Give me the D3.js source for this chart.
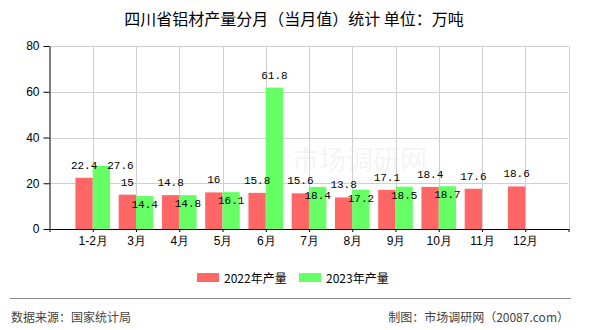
<!DOCTYPE html>
<html>
<head>
<meta charset="utf-8">
<script src="https://cdn.jsdelivr.net/npm/d3@7"></script>
<style>
  html, body { margin: 0; padding: 0; background: #fff; }
  svg { display: block; font-family: "Noto Sans CJK SC", "Noto Sans", sans-serif; }
</style>
</head>
<body>
<svg id="chart" width="590" height="330"></svg>
<script>
/* 四川省铝材产量分月（当月值） — grouped bars, 2022 vs 2023 */

const months = ['1-2月', '3月', '4月', '5月', '6月', '7月', '8月', '9月', '10月', '11月', '12月'];
const output2022 = [22.4, 15, 14.8, 16, 15.8, 15.6, 13.8, 17.1, 18.4, 17.6, 18.6];
const output2023 = [27.6, 14.4, 14.8, 16.1, 61.8, 18.4, 17.2, 18.5, 18.7, null, null];
const seriesNames = ['2022年产量', '2023年产量'];
const yTicks = [0, 20, 40, 60, 80];

const COLORS = ['#ff6666', '#66ff66'];
const PLOT = { left: 49.5, right: 568.5, top: 46, bottom: 229 };
const LABEL_CHAR_W = 6;
const LABEL_H = 11;

const svg = d3.select('#chart');

const x = d3.scaleLinear().domain([0, months.length + 1]).range([PLOT.left, PLOT.right]);
const y = d3.scaleLinear().domain([0, 80]).range([PLOT.bottom, PLOT.top]);
const step = x(1) - x(0);
const barW = step * 0.4;

// Title
svg.append('text')
    .attr('x', 294).attr('y', 18)
    .attr('text-anchor', 'middle')
    .attr('dominant-baseline', 'central')
    .attr('font-size', '16px')
    .attr('fill', '#000')
    .text('四川省铝材产量分月（当月值）统计 单位：万吨');

// Watermark
svg.append('text')
    .attr('x', 292).attr('y', 158)
    .attr('dominant-baseline', 'central')
    .attr('font-size', '27px')
    .attr('fill', '#000')
    .attr('opacity', 0.04)
    .text('市场调研网');

// Grid
const grid = svg.append('g').attr('stroke', '#d0d0d0').attr('stroke-width', 1);
yTicks.forEach(t => {
    grid.append('line')
        .attr('x1', PLOT.left).attr('x2', PLOT.right)
        .attr('y1', Math.round(y(t)) + 0.5).attr('y2', Math.round(y(t)) + 0.5);
});
d3.range(1, months.length + 2).forEach(i => {
    grid.append('line')
        .attr('x1', Math.round(x(i)) + 0.5).attr('x2', Math.round(x(i)) + 0.5)
        .attr('y1', PLOT.top).attr('y2', PLOT.bottom);
});

// Bars
const rows = months.map((m, i) => ({ m, i, a: output2022[i], b: output2023[i] }));

svg.append('g').selectAll('rect')
    .data(rows)
    .join('rect')
    .attr('x', d => x(d.i + 1) - barW)
    .attr('y', d => y(d.a))
    .attr('width', barW)
    .attr('height', d => y(0) - y(d.a))
    .attr('fill', COLORS[0]);

svg.append('g').selectAll('rect')
    .data(rows.filter(d => d.b != null))
    .join('rect')
    .attr('x', d => x(d.i + 1))
    .attr('y', d => y(d.b))
    .attr('width', barW)
    .attr('height', d => y(0) - y(d.b))
    .attr('fill', COLORS[1]);

// Axes
const yAxis = svg.append('g')
    .attr('transform', `translate(${PLOT.left},0)`)
    .call(d3.axisLeft(y).tickValues(yTicks).tickSize(6).tickPadding(4).tickSizeOuter(0));
yAxis.select('.domain').attr('stroke', '#000');
yAxis.selectAll('text').attr('font-size', '12px').attr('fill', '#000').attr('font-family', '"Liberation Sans", sans-serif');

const xAxis = svg.append('g')
    .attr('transform', `translate(0,${PLOT.bottom})`)
    .call(d3.axisBottom(x)
        .tickValues(d3.range(0, months.length + 2))
        .tickFormat(i => (i >= 1 && i <= months.length) ? months[i - 1] : '')
        .tickSize(3).tickPadding(4).tickSizeOuter(0));
xAxis.select('.domain').attr('stroke', '#000');
xAxis.selectAll('text').attr('font-size', '12px').attr('fill', '#000');

// Value labels: 2022 above bar, 2023 avoids colliding with 2022 labels
function box(cx, cy, txt) {
    const w = String(txt).length * LABEL_CHAR_W;
    return { x0: cx - w / 2, x1: cx + w / 2, y0: cy - LABEL_H / 2 - 1, y1: cy + LABEL_H / 2 + 1 };
}
function hit(a, b) {
    return a.x0 < b.x1 && b.x0 < a.x1 && a.y0 < b.y1 && b.y0 < a.y1;
}

const labels = [];
const redBoxes = [];
rows.forEach(d => {
    const cx = x(d.i + 1) - barW / 2;
    const cy = y(d.a) - 12;
    labels.push({ cx, cy, t: d.a });
    redBoxes.push(box(cx, cy, d.a));
});
rows.filter(d => d.b != null).forEach(d => {
    const cx = x(d.i + 1) + barW / 2;
    const top = y(d.b);
    const redCy = y(d.a) - 12;
    const candidates = [
        [cx, top - 12],
        [cx, top + 9],
        [cx + 19, redCy]
    ];
    let pick = candidates[candidates.length - 1];
    for (const c of candidates) {
        const bx = box(c[0], c[1], d.b);
        if (!redBoxes.some(r => hit(r, bx))) { pick = c; break; }
    }
    labels.push({ cx: pick[0], cy: pick[1], t: d.b });
});

svg.append('g').selectAll('text')
    .data(labels)
    .join('text')
    .attr('x', d => d.cx)
    .attr('y', d => d.cy)
    .attr('text-anchor', 'middle')
    .attr('dominant-baseline', 'central')
    .attr('font-family', '"Liberation Mono", "DejaVu Sans Mono", monospace')
    .attr('font-size', '11px')
    .attr('fill', '#000')
    .text(d => d.t);

// Legend
const legendX = [197, 299];
const legend = svg.append('g');
seriesNames.forEach((name, i) => {
    legend.append('rect')
        .attr('x', legendX[i]).attr('y', 273)
        .attr('width', 22).attr('height', 9)
        .attr('fill', COLORS[i]);
    legend.append('text')
        .attr('x', legendX[i] + 27).attr('y', 277.5)
        .attr('dominant-baseline', 'central')
        .attr('font-size', '12px')
        .attr('fill', '#000')
        .text(name);
});

// Footer
svg.append('line')
    .attr('x1', 10).attr('x2', 571)
    .attr('y1', 298.5).attr('y2', 298.5)
    .attr('stroke', '#888').attr('stroke-width', 1);

svg.append('text')
    .attr('x', 11).attr('y', 316)
    .attr('dominant-baseline', 'central')
    .attr('font-size', '12px').attr('fill', '#444')
    .text('数据来源：国家统计局');

svg.append('text')
    .attr('x', 569).attr('y', 316)
    .attr('text-anchor', 'end')
    .attr('dominant-baseline', 'central')
    .attr('font-size', '12px').attr('fill', '#444')
    .text('制图：市场调研网（20087.com）');
</script>
</body>
</html>
